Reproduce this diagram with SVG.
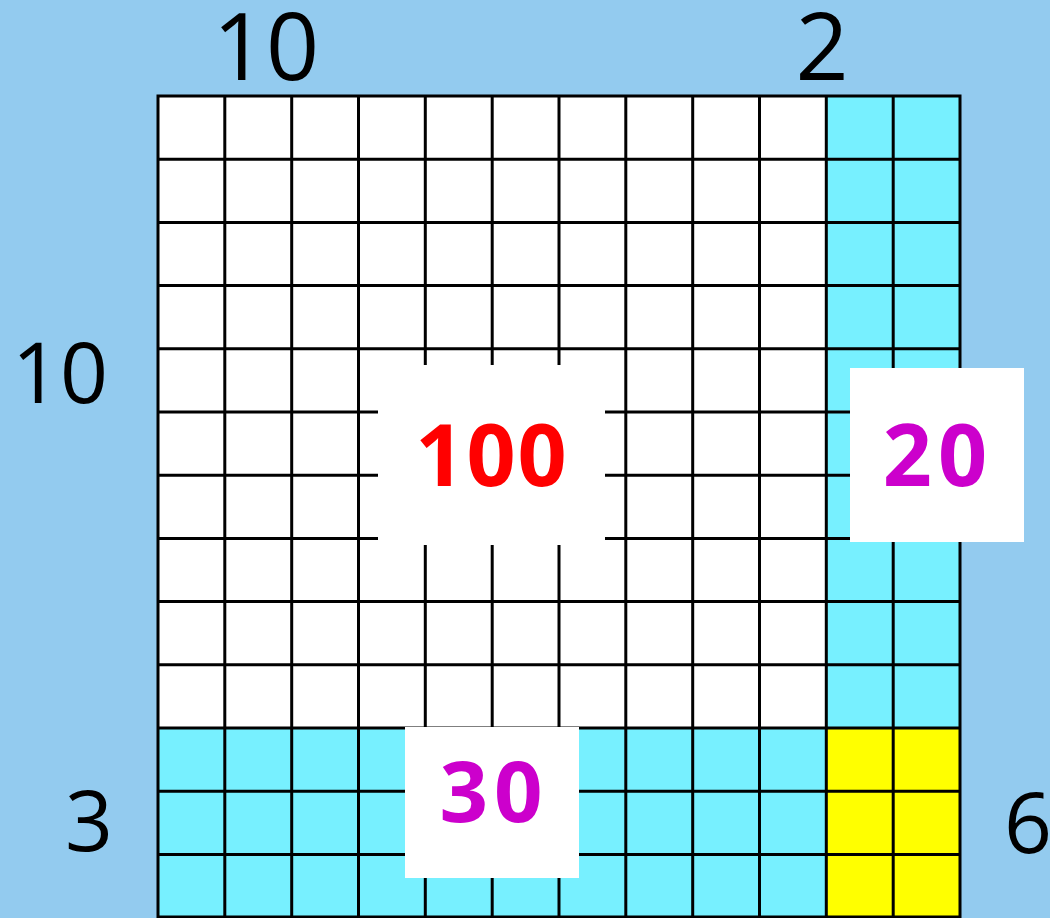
<svg xmlns="http://www.w3.org/2000/svg" width="1050" height="918" viewBox="0 0 1050 918">
<style>
.g{stroke:#000;stroke-width:3;fill:none}
.lbl{font-family:"Open Sans","Liberation Sans",sans-serif;font-weight:400;fill:#000;text-anchor:middle}
.big{font-family:"Open Sans","Liberation Sans",sans-serif;font-weight:700;text-anchor:middle}
.box{fill:#fff}
</style>
<rect x="0" y="0" width="1050" height="918" fill="#93CBEF"/>
<g id="grid">
<rect x="158" y="96" width="802" height="822" fill="#fff"/>
<rect x="826.3" y="96" width="133.7" height="632" fill="#77F0FF"/>
<rect x="158" y="728" width="668.3" height="190" fill="#77F0FF"/>
<rect x="826.3" y="728" width="133.7" height="190" fill="#FFFF00"/>
<path class="g" d="M158,96V918M224.8,96V918M291.7,96V918M358.5,96V918M425.3,96V918M492.2,96V918M559,96V918M625.8,96V918M692.7,96V918M759.5,96V918M826.3,96V918M893.2,96V918M960,96V918
M156.5,96H961.5M156.5,159.2H961.5M156.5,222.4H961.5M156.5,285.6H961.5M156.5,348.8H961.5M156.5,412H961.5M156.5,475.2H961.5M156.5,538.4H961.5M156.5,601.6H961.5M156.5,664.8H961.5M156.5,728H961.5M156.5,791.2H961.5M156.5,854.4H961.5M156.5,917H961.5"/>
</g>
<g id="label-top-10"><text class="lbl" x="266" y="80" font-size="93">10</text></g>
<g id="label-top-2"><text class="lbl" x="822" y="80" font-size="93">2</text></g>
<g id="label-left-10"><text class="lbl" x="60" y="403" font-size="84">10</text></g>
<g id="label-left-3"><text class="lbl" x="89" y="851" font-size="84">3</text></g>
<g id="label-right-6"><text class="lbl" x="1028" y="853" font-size="84">6</text></g>
<g id="node-100">
<rect class="box" x="378" y="365" width="227" height="180"/>
<text class="big" x="492" y="486" font-size="86" letter-spacing="2" fill="#FF0000">100</text>
</g>
<g id="node-20">
<rect class="box" x="850" y="368" width="174" height="174"/>
<text class="big" x="938" y="486" font-size="86" letter-spacing="6" fill="#CC00CC">20</text>
</g>
<g id="node-30">
<rect class="box" x="405" y="727" width="174" height="151"/>
<text class="big" x="494" y="822" font-size="85" letter-spacing="6" fill="#CC00CC">30</text>
</g>
</svg>
